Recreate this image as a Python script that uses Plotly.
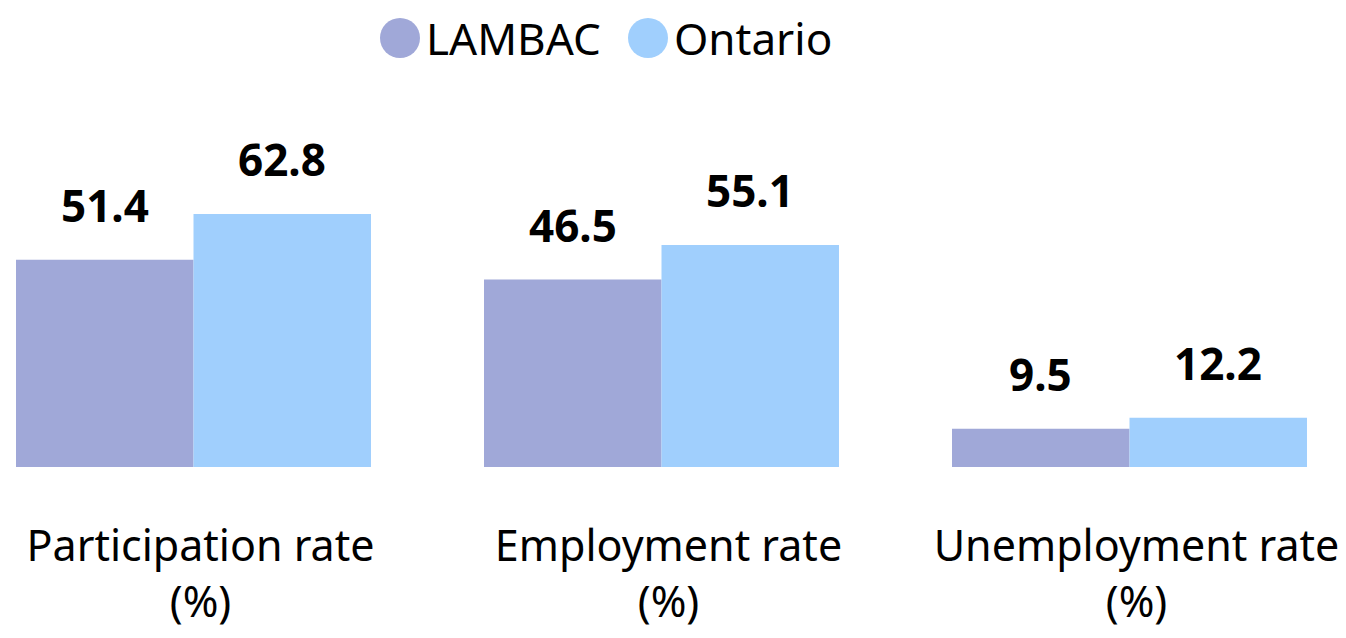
import plotly.graph_objects as go

# ---- data ----
categories = ["Participation rate<br>(%)", "Employment rate<br>(%)", "Unemployment rate<br>(%)"]
lambac = [51.4, 46.5, 9.5]
ontario = [62.8, 55.1, 12.2]
series_names = ["LAMBAC", "Ontario"]
series_values = [lambac, ontario]
colors = ["#A0A8D8", "#A0CFFD"]

# ---- layout constants (page shows the figure with an 8px body offset) ----
W, H = 1338, 630
ML, MR, MT, MB = 0, 0, 100, 171
PX_PER_CAT = 468.0
FIRST_CENTER_PX = 185.5
X_RANGE = [-FIRST_CENTER_PX / PX_PER_CAT, (W - FIRST_CENTER_PX) / PX_PER_CAT]
BARGAP = 0.2415
PX_PER_UNIT = 4.03
FONT = "Noto Sans"

plot_w = W - ML - MR
plot_h = H - MT - MB
Y_RANGE = [0, plot_h / PX_PER_UNIT]
bar_px = PX_PER_CAT * (1 - BARGAP) / len(series_names)

fig = go.Figure()
for name, vals, col in zip(series_names, series_values, colors):
    fig.add_trace(go.Bar(x=categories, y=vals, name=name, marker_color=col,
                         marker_line_width=0, showlegend=False))

annotations = []
for si, vals in enumerate(series_values):
    offset = (si - (len(series_names) - 1) / 2) * bar_px
    for c, v in zip(categories, vals):
        annotations.append(dict(x=c, y=v, xref="x", yref="y", text=f"<b>{v}</b>",
                                showarrow=False, xshift=offset, yshift=23,
                                yanchor="bottom",
                                font=dict(family=FONT, size=44, color="black")))

# custom legend (large circles)
legend_y_px = 30
legend_y = (H - MB - legend_y_px) / plot_h
shapes = []
legend_items = [(392, 416), (640, 664)]
for (cx, tx), name, col in zip(legend_items, series_names, colors):
    shapes.append(dict(type="circle", xref="paper", yref="paper",
                       xsizemode="pixel", ysizemode="pixel",
                       xanchor=cx / W, yanchor=legend_y,
                       x0=-20, x1=20, y0=-20, y1=20,
                       fillcolor=col, line_width=0))
    annotations.append(dict(x=tx / W, y=legend_y, xref="paper", yref="paper",
                            text=name, showarrow=False, xanchor="left", yanchor="middle",
                            font=dict(family=FONT, size=44, color="black")))

fig.update_layout(
    width=W, height=H,
    margin=dict(l=ML, r=MR, t=MT, b=MB),
    paper_bgcolor="white", plot_bgcolor="white",
    barmode="group", bargap=BARGAP, bargroupgap=0,
    font=dict(family=FONT, color="black"),
    xaxis=dict(range=X_RANGE, showgrid=False, zeroline=False, showline=False,
               ticks="", tickfont=dict(family=FONT, size=43, color="black"),
               ticklabelstandoff=50, ticklabelshift=7),
    yaxis=dict(range=Y_RANGE, visible=False),
    annotations=annotations,
    shapes=shapes,
)

fig.write_html("out.html")
